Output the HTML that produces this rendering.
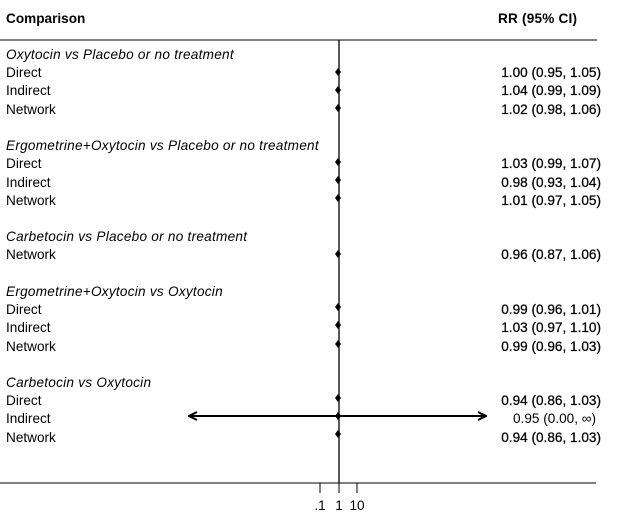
<!DOCTYPE html>
<html><head><meta charset="utf-8"><style>
html,body{margin:0;padding:0;background:#fff;}
svg{display:block;}
text{font-family:"Liberation Sans",Arial,sans-serif;font-size:13.6px;fill:#000;}
.b{font-weight:bold;}
.i{font-style:italic;letter-spacing:0.25px;}
.v{stroke:#000;stroke-width:0.25px;}
</style></head><body>
<svg width="625" height="528" viewBox="0 0 625 528" xmlns="http://www.w3.org/2000/svg">
<defs><marker id="ah" viewBox="0 0 10 10" refX="9" refY="5" markerWidth="10" markerHeight="10" markerUnits="userSpaceOnUse" orient="auto-start-reverse"><path d="M1,1 L9,5 L1,9" fill="none" stroke="#000" stroke-width="2"/></marker></defs>
<text x="6" y="23" class="b">Comparison</text>
<text x="498" y="23" class="b" textLength="79">RR (95% CI)</text>
<line x1="0" y1="40" x2="597" y2="40" stroke="#000" stroke-width="1"/>
<line x1="339" y1="40" x2="339" y2="483" stroke="#000" stroke-width="1.3"/>
<line x1="0" y1="483" x2="596" y2="483" stroke="#000" stroke-width="1"/>
<line x1="320" y1="483" x2="320" y2="493" stroke="#000"/>
<line x1="339" y1="483" x2="339" y2="493" stroke="#000"/>
<line x1="357" y1="483" x2="357" y2="493" stroke="#000"/>
<text x="320" y="510" text-anchor="middle">.1</text>
<text x="339" y="510" text-anchor="middle">1</text>
<text x="357" y="510" text-anchor="middle">10</text>

<g>
<text x="6" y="59" class="i">Oxytocin vs Placebo or no treatment</text>
<text x="6" y="77">Direct</text><text x="601" y="77" text-anchor="end" class="v">1.00 (0.95, 1.05)</text>
<text x="6" y="95">Indirect</text><text x="601" y="95" text-anchor="end" class="v">1.04 (0.99, 1.09)</text>
<text x="6" y="114">Network</text><text x="601" y="114" text-anchor="end" class="v">1.02 (0.98, 1.06)</text>

<text x="6" y="150" class="i">Ergometrine+Oxytocin vs Placebo or no treatment</text>
<text x="6" y="168">Direct</text><text x="601" y="168" text-anchor="end" class="v">1.03 (0.99, 1.07)</text>
<text x="6" y="187">Indirect</text><text x="601" y="187" text-anchor="end" class="v">0.98 (0.93, 1.04)</text>
<text x="6" y="205">Network</text><text x="601" y="205" text-anchor="end" class="v">1.01 (0.97, 1.05)</text>

<text x="6" y="241" class="i">Carbetocin vs Placebo or no treatment</text>
<text x="6" y="259">Network</text><text x="601" y="259" text-anchor="end" class="v">0.96 (0.87, 1.06)</text>

<text x="6" y="296" class="i">Ergometrine+Oxytocin vs Oxytocin</text>
<text x="6" y="314">Direct</text><text x="601" y="314" text-anchor="end" class="v">0.99 (0.96, 1.01)</text>
<text x="6" y="332">Indirect</text><text x="601" y="332" text-anchor="end" class="v">1.03 (0.97, 1.10)</text>
<text x="6" y="351">Network</text><text x="601" y="351" text-anchor="end" class="v">0.99 (0.96, 1.03)</text>

<text x="6" y="387" class="i">Carbetocin vs Oxytocin</text>
<text x="6" y="405">Direct</text><text x="601" y="405" text-anchor="end" class="v">0.94 (0.86, 1.03)</text>
<text x="6" y="423">Indirect</text><text x="596" y="423" text-anchor="end">0.95 (0.00, ∞)</text>
<text x="6" y="442">Network</text><text x="601" y="442" text-anchor="end" class="v">0.94 (0.86, 1.03)</text>
</g>

<line x1="189" y1="416" x2="486" y2="416" stroke="#000" stroke-width="2" marker-start="url(#ah)" marker-end="url(#ah)"/>

<g fill="#000">
<path d="M338,68 l3,4 l-3,4 l-3,-4z"/>
<path d="M338,86 l3,4 l-3,4 l-3,-4z"/>
<path d="M338,104 l3,4 l-3,4 l-3,-4z"/>
<path d="M338,158 l3,4 l-3,4 l-3,-4z"/>
<path d="M338,176 l3,4 l-3,4 l-3,-4z"/>
<path d="M338,194 l3,4 l-3,4 l-3,-4z"/>
<path d="M338,250 l3,4 l-3,4 l-3,-4z"/>
<path d="M338,303 l3,4 l-3,4 l-3,-4z"/>
<path d="M338,321 l3,4 l-3,4 l-3,-4z"/>
<path d="M338,340 l3,4 l-3,4 l-3,-4z"/>
<path d="M338,394 l3,4 l-3,4 l-3,-4z"/>
<path d="M338,412 l3,4 l-3,4 l-3,-4z"/>
<path d="M338,430 l3,4 l-3,4 l-3,-4z"/>
</g>
</svg>
</body></html>
